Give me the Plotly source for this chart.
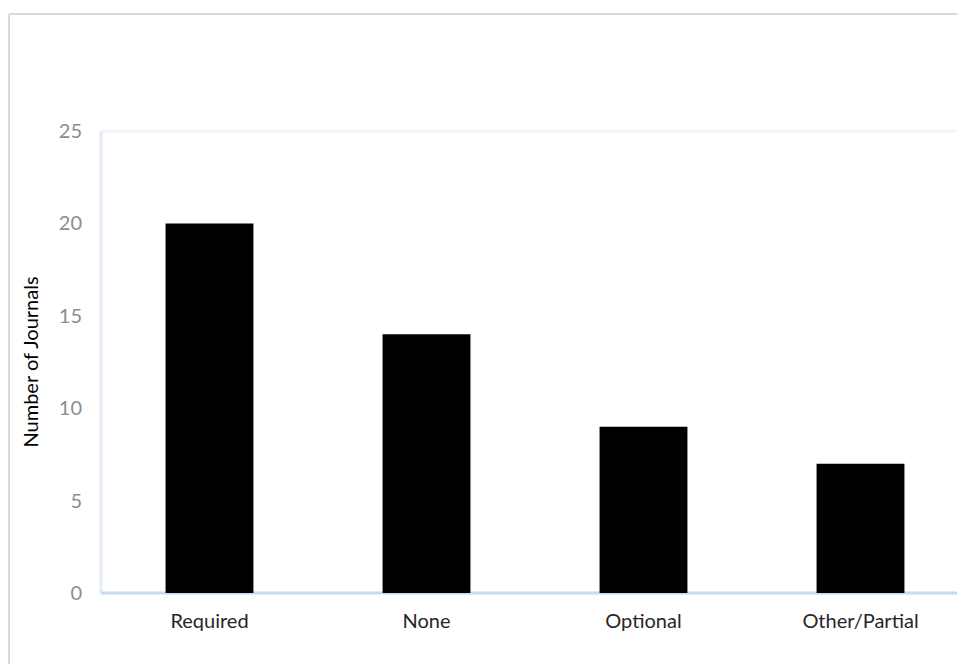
import plotly.graph_objects as go

categories = ["Required", "None", "Optional", "Other/Partial"]
journals = [20, 14, 9, 7]
y_ticks = [0, 5, 10, 15, 20, 25]

W, H = 957, 664
L, R, T, B = 101, 0, 131, 71
plot_w = W - L - R
cat_px = 217.0
span = plot_w / cat_px

fig = go.Figure()
fig.add_trace(go.Bar(
    x=categories, y=journals,
    marker=dict(color="#000000", line=dict(width=0)),
    width=0.405,
))

def px_x(p):
    return (p - L) / plot_w

def px_y(p):
    return (H - B - p) / (H - T - B)

shapes = [
    dict(type="line", xref="paper", yref="paper", x0=px_x(9), x1=px_x(1000), y0=px_y(14), y1=px_y(14),
         line=dict(color="#d9d9d9", width=2), layer="below"),
    dict(type="line", xref="paper", yref="paper", x0=px_x(9), x1=px_x(9), y0=px_y(14), y1=px_y(700),
         line=dict(color="#d9d9d9", width=2), layer="below"),
    dict(type="line", xref="paper", yref="paper", x0=0, x1=1.2, y0=1, y1=1,
         line=dict(color="#f1f5fb", width=3), layer="below"),
    dict(type="line", xref="paper", yref="paper", x0=0, x1=0, y0=0, y1=1,
         line=dict(color="#e2ebf6", width=3), layer="below"),
    dict(type="line", xref="paper", yref="paper", x0=0, x1=1.2, y0=0, y1=0,
         line=dict(color="#c6daf0", width=3), layer="below"),
]

fig.update_layout(
    width=W, height=H,
    margin=dict(l=L, r=R, t=T, b=B, pad=0),
    paper_bgcolor="white", plot_bgcolor="white",
    showlegend=False,
    shapes=shapes,
    font=dict(family="Lato, Carlito, Calibri, sans-serif"),
    xaxis=dict(
        range=[-0.5, -0.5 + span],
        showgrid=False, zeroline=False, showline=False,
        ticks="outside", ticklen=10, tickcolor="rgba(0,0,0,0)",
        tickfont=dict(size=20, color="#262626"),
    ),
    yaxis=dict(
        range=[0, 25], tickvals=y_ticks,
        showgrid=False, zeroline=False, showline=False,
        ticks="outside", ticklen=14, tickcolor="rgba(0,0,0,0)",
        tickfont=dict(size=20, color="#8c8c8c"),
        title=dict(text="Number of Journals", font=dict(size=20, color="#000000"), standoff=14),
    ),
)

fig.write_html(
    "out.html",
    config={"displayModeBar": False},
    post_script="document.body.style.margin='0';document.body.style.overflow='hidden';",
)
